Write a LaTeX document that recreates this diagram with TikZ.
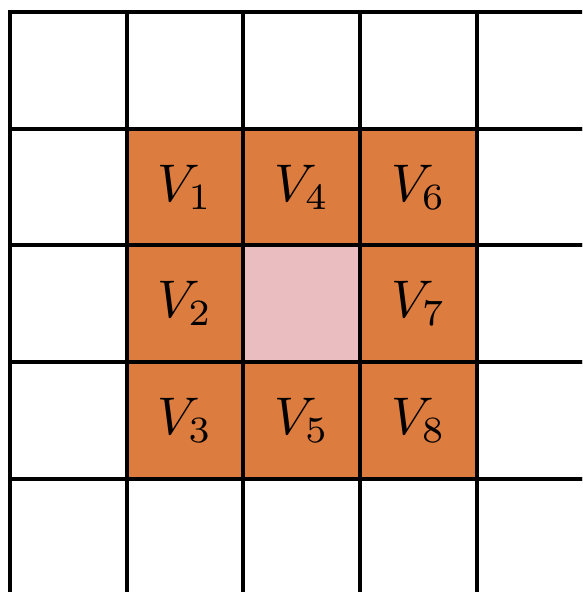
\documentclass[tikz,border=0pt]{standalone}
\usepackage{graphicx}
\usepackage{tikz}
\definecolor{cellorange}{RGB}{220,124,62}
\definecolor{cellpink}{RGB}{234,190,192}
\newcommand{\bigcell}[1]{\scalebox{5.3}{$#1$}}
\begin{document}
\begin{tikzpicture}[x=1pt,y=-1pt,
  cell/.style={draw=black,line width=4pt,minimum size=116.7pt,inner sep=0pt,outer sep=0pt},
  hot/.style={cell,fill=cellorange},
  center/.style={cell,fill=cellpink}]
\useasboundingbox (0,0) rectangle (582,592);
\clip (0,0) rectangle (582,592);
\fill[white] (0,0) rectangle (582,592);
\foreach \i in {0,...,4}{
  \foreach \j in {0,...,4}{
    \node[cell] (c-\i-\j) at ({10+116.7*(\i+0.5)},{12+116.7*(\j+0.5)}) {};
  }
}
\node[hot] (v1) at (c-1-1) {\bigcell{V_1}};
\node[hot] (v2) at (c-1-2) {\bigcell{V_2}};
\node[hot] (v3) at (c-1-3) {\bigcell{V_3}};
\node[hot] (v4) at (c-2-1) {\bigcell{V_4}};
\node[center] (v0) at (c-2-2) {};
\node[hot] (v5) at (c-2-3) {\bigcell{V_5}};
\node[hot] (v6) at (c-3-1) {\bigcell{V_6}};
\node[hot] (v7) at (c-3-2) {\bigcell{V_7}};
\node[hot] (v8) at (c-3-3) {\bigcell{V_8}};
\end{tikzpicture}
\end{document}
